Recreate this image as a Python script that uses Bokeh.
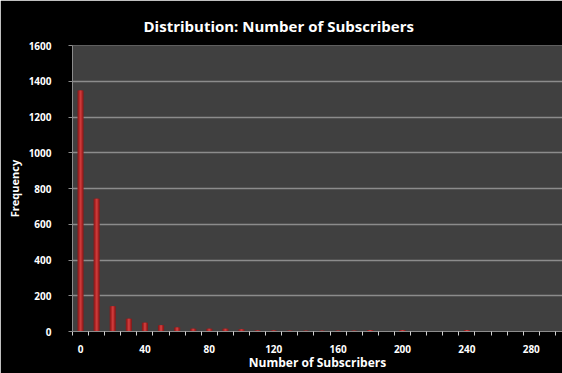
from bokeh.plotting import figure
from bokeh.models import FixedTicker, Range1d, ColumnDataSource, Title
from bokeh.embed import file_html
from bokeh.resources import INLINE

# Data
bins = [0, 10, 20, 30, 40, 50, 60, 70, 80, 90, 100, 110, 120, 130, 140, 150,
        160, 170, 180, 190, 200, 210, 220, 230, 240, 250, 260, 270, 280, 290, 300]
freq = [1348, 742, 141, 71, 49, 35, 22, 15, 15, 16, 13, 6, 5, 4, 4, 4,
        4, 4, 9, 3, 8, 1, 2, 2, 8, 2, 2, 2, 2, 2, 2]
y_ticks = [0, 200, 400, 600, 800, 1000, 1200, 1400, 1600]
x_ticks = [0, 40, 80, 120, 160, 200, 240, 280]

FONT = "Open Sans"

src = ColumnDataSource(dict(x=bins, top=freq))

p = figure(width=562, height=373, output_backend="svg", toolbar_location=None,
           x_range=Range1d(-5, 299.4), y_range=Range1d(0, 1600),
           min_border_left=72, min_border_right=0, min_border_top=45,
           min_border_bottom=42)
p.background_fill_color = "#404040"
p.border_fill_color = "#000000"
p.outline_line_color = None

t = Title(text="Distribution: Number of Subscribers", align="left",
          text_color="white", text_font=FONT, text_font_size="15px",
          text_font_style="bold", offset=71, standoff=19)
p.add_layout(t, "above")

# bars: cylinder-like shading
p.vbar(x="x", top="top", width=3.8, source=src, fill_color="#8a1b1b", line_color=None)
p.vbar(x="x", top="top", width=2.6, source=src, fill_color="#aa2424", line_color=None)
p.vbar(x="x", top="top", width=1.2, source=src, fill_color="#cc3a3a", line_color=None)

# grid
p.xgrid.grid_line_color = None
p.ygrid.grid_line_color = "#8c8c8c"
p.ygrid.grid_line_width = 1.3
p.ygrid.ticker = FixedTicker(ticks=y_ticks)

# y axis
p.yaxis.ticker = FixedTicker(ticks=y_ticks)
p.yaxis.axis_label = "Frequency"
p.yaxis.axis_label_text_color = "white"
p.yaxis.axis_label_text_font = FONT
p.yaxis.axis_label_text_font_size = "11px"
p.yaxis.axis_label_text_font_style = "bold"
p.yaxis.axis_label_standoff = 4
p.yaxis.major_label_text_color = "white"
p.yaxis.major_label_text_font = FONT
p.yaxis.major_label_text_font_size = "10px"
p.yaxis.major_label_text_font_style = "bold"
p.yaxis.major_label_standoff = 17
p.yaxis.axis_line_color = "#8c8c8c"
p.yaxis.major_tick_line_color = "#8c8c8c"
p.yaxis.major_tick_out = 4
p.yaxis.major_tick_in = 0
p.yaxis.minor_tick_line_color = None

# x axis
minor = [b - 5 for b in bins] + [bins[-1] + 5]
p.xaxis.ticker = FixedTicker(ticks=x_ticks, minor_ticks=minor)
p.xaxis.axis_label = "Number of Subscribers"
p.xaxis.axis_label_text_color = "white"
p.xaxis.axis_label_text_font = FONT
p.xaxis.axis_label_text_font_size = "12px"
p.xaxis.axis_label_text_font_style = "bold"
p.xaxis.axis_label_standoff = -2
p.xaxis.major_label_text_color = "white"
p.xaxis.major_label_text_font = FONT
p.xaxis.major_label_text_font_size = "10px"
p.xaxis.major_label_text_font_style = "bold"
p.xaxis.major_label_standoff = 9
p.xaxis.axis_line_color = "#8c8c8c"
p.xaxis.major_tick_line_color = None
p.xaxis.major_tick_out = 0
p.xaxis.major_tick_in = 0
p.xaxis.minor_tick_line_color = "#d0d0d0"
p.xaxis.minor_tick_out = 4
p.xaxis.minor_tick_in = 0

open("out.html", "w").write(file_html(p, INLINE))
